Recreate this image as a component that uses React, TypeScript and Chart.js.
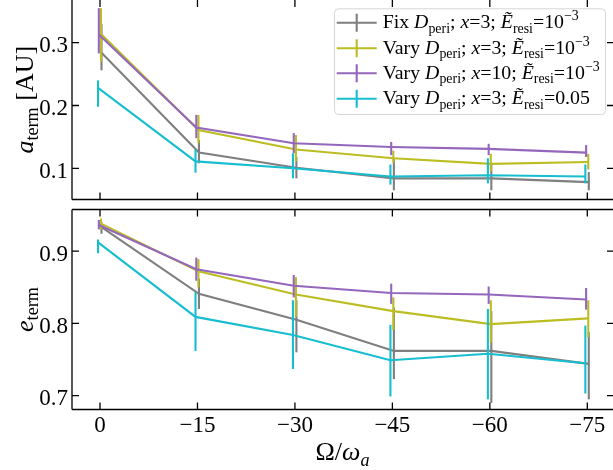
import React, { useEffect, useRef } from 'react';
import { Chart, registerables } from 'chart.js';

Chart.register(...registerables);

// ---------- data ----------
const xValues = [0, -15, -30, -45, -60, -75];
const xTickLabels = ['0', '\u221215', '\u221230', '\u221245', '\u221260', '\u221275'];
const aTickValues = [0.1, 0.2, 0.3];
const aTickLabels = ['0.1', '0.2', '0.3'];
const eTickValues = [0.7, 0.8, 0.9];
const eTickLabels = ['0.7', '0.8', '0.9'];

// a_term [AU]
const aFixX3 = [0.284, 0.125, 0.101, 0.084, 0.084, 0.078];
const aFixX3Lo = [0.256, 0.108, 0.084, 0.065, 0.065, 0.065];
const aFixX3Hi = [0.33, 0.145, 0.118, 0.116, 0.108, 0.094];
const aVaryX3 = [0.314, 0.161, 0.13, 0.116, 0.107, 0.11];
const aVaryX3Lo = [0.27, 0.14, 0.111, 0.109, 0.095, 0.098];
const aVaryX3Hi = [0.355, 0.185, 0.153, 0.128, 0.123, 0.123];
const aVaryX10 = [0.313, 0.165, 0.14, 0.134, 0.131, 0.125];
const aVaryX10Lo = [0.283, 0.148, 0.124, 0.121, 0.121, 0.118];
const aVaryX10Hi = [0.355, 0.185, 0.156, 0.142, 0.139, 0.137];
const aVaryE05 = [0.228, 0.111, 0.1, 0.087, 0.089, 0.087];
const aVaryE05Lo = [0.198, 0.093, 0.084, 0.074, 0.076, 0.076];
const aVaryE05Hi = [0.24, 0.13, 0.124, 0.106, 0.116, 0.106];

// e_term
const eFixX3 = [0.933, 0.841, 0.805, 0.762, 0.762, 0.744];
const eFixX3Lo = [0.924, 0.82, 0.76, 0.723, 0.69, 0.695];
const eFixX3Hi = [0.94, 0.862, 0.832, 0.822, 0.817, 0.788];
const eVaryX3 = [0.938, 0.872, 0.84, 0.817, 0.799, 0.807];
const eVaryX3Lo = [0.93, 0.85, 0.809, 0.791, 0.773, 0.781];
const eVaryX3Hi = [0.945, 0.889, 0.864, 0.836, 0.832, 0.832];
const eVaryX10 = [0.936, 0.875, 0.852, 0.842, 0.84, 0.833];
const eVaryX10Lo = [0.93, 0.859, 0.836, 0.827, 0.827, 0.819];
const eVaryX10Hi = [0.943, 0.891, 0.867, 0.855, 0.851, 0.849];
const eVaryE05 = [0.912, 0.809, 0.784, 0.749, 0.758, 0.745];
const eVaryE05Lo = [0.897, 0.762, 0.737, 0.699, 0.695, 0.703];
const eVaryE05Hi = [0.916, 0.843, 0.832, 0.798, 0.82, 0.797];

type Seg = { t: string; it?: boolean; sub?: boolean; sup?: boolean };

const legendLabels: Seg[][] = [
  [{ t: 'Fix ' }, { t: 'D', it: true }, { t: 'peri', sub: true }, { t: '; ' }, { t: 'x', it: true }, { t: '=3; ' }, { t: '\u1EBC', it: true }, { t: 'resi', sub: true }, { t: '=10' }, { t: '\u22123', sup: true }],
  [{ t: 'Vary ' }, { t: 'D', it: true }, { t: 'peri', sub: true }, { t: '; ' }, { t: 'x', it: true }, { t: '=3; ' }, { t: '\u1EBC', it: true }, { t: 'resi', sub: true }, { t: '=10' }, { t: '\u22123', sup: true }],
  [{ t: 'Vary ' }, { t: 'D', it: true }, { t: 'peri', sub: true }, { t: '; ' }, { t: 'x', it: true }, { t: '=10; ' }, { t: '\u1EBC', it: true }, { t: 'resi', sub: true }, { t: '=10' }, { t: '\u22123', sup: true }],
  [{ t: 'Vary ' }, { t: 'D', it: true }, { t: 'peri', sub: true }, { t: '; ' }, { t: 'x', it: true }, { t: '=3; ' }, { t: '\u1EBC', it: true }, { t: 'resi', sub: true }, { t: '=0.05' }],
];
const aTitle: Seg[] = [{ t: 'a', it: true }, { t: 'term', sub: true }, { t: ' [AU]' }];
const eTitle: Seg[] = [{ t: 'e', it: true }, { t: 'term', sub: true }];
const xTitle: Seg[] = [{ t: '\u03A9/' }, { t: '\u03C9', it: true }, { t: 'a', it: true, sub: true }];

const colors = ['#7f7f7f', '#bcbd22', '#9467bd', '#17becf'];
const xShift = [-0.23, -0.15, 0.18, 0.3];

const aSeries = [aFixX3, aVaryX3, aVaryX10, aVaryE05];
const aLo = [aFixX3Lo, aVaryX3Lo, aVaryX10Lo, aVaryE05Lo];
const aHi = [aFixX3Hi, aVaryX3Hi, aVaryX10Hi, aVaryE05Hi];
const eSeries = [eFixX3, eVaryX3, eVaryX10, eVaryE05];
const eLo = [eFixX3Lo, eVaryX3Lo, eVaryX10Lo, eVaryE05Lo];
const eHi = [eFixX3Hi, eVaryX3Hi, eVaryX10Hi, eVaryE05Hi];

// ---------- drawing helpers ----------
const FONT = '"Liberation Serif", "Times New Roman", serif';
const LW = 2.1;

function segFont(s: Seg, size: number) {
  const sz = s.sub || s.sup ? size * 0.7 : size;
  return `${s.it ? 'italic ' : ''}${sz}px ${FONT}`;
}
function richWidth(ctx: CanvasRenderingContext2D, segs: Seg[], size: number) {
  let w = 0;
  for (const s of segs) {
    ctx.font = segFont(s, size);
    w += ctx.measureText(s.t).width;
  }
  return w;
}
function drawRich(ctx: CanvasRenderingContext2D, segs: Seg[], x: number, y: number, size: number) {
  let cx = x;
  ctx.textAlign = 'left';
  ctx.textBaseline = 'alphabetic';
  for (const s of segs) {
    ctx.font = segFont(s, size);
    const dy = s.sub ? 0.22 * size : s.sup ? -0.4 * size : 0;
    ctx.fillText(s.t, cx, y + dy);
    cx += ctx.measureText(s.t).width;
  }
}

type PanelCfg = {
  lo: number[][];
  hi: number[][];
  yTicks: number[];
  yTickLabels: string[];
  yTitle: Seg[];
  bottomPanel: boolean;
};

function makePlugin(cfg: PanelCfg) {
  return {
    id: 'panelDecor',
    afterDatasetDraw(chart: any, args: any) {
      const i = args.index;
      const ctx: CanvasRenderingContext2D = chart.ctx;
      const xs = chart.scales.x;
      const ys = chart.scales.y;
      ctx.save();
      ctx.strokeStyle = colors[i];
      ctx.lineWidth = LW;
      xValues.forEach((xv, j) => {
        const px = xs.getPixelForValue(xv + xShift[i]);
        ctx.beginPath();
        ctx.moveTo(px, ys.getPixelForValue(cfg.lo[i][j]));
        ctx.lineTo(px, ys.getPixelForValue(cfg.hi[i][j]));
        ctx.stroke();
      });
      ctx.restore();
    },
    afterDraw(chart: any) {
      const ctx: CanvasRenderingContext2D = chart.ctx;
      const { left, right, top, bottom } = chart.chartArea;
      const xs = chart.scales.x;
      const ys = chart.scales.y;
      ctx.save();
      ctx.strokeStyle = '#000';
      ctx.lineWidth = 1.3;
      // spines (the right spine lies just past the picture's edge)
      ctx.beginPath();
      ctx.moveTo(left, bottom);
      ctx.lineTo(right + 2, bottom);
      ctx.moveTo(left, top);
      ctx.lineTo(left, bottom);
      if (cfg.bottomPanel) {
        ctx.moveTo(left, top);
        ctx.lineTo(right + 2, top);
      }
      ctx.stroke();
      // ticks (inward)
      const tl = 7;
      ctx.beginPath();
      xValues.forEach((v) => {
        const px = xs.getPixelForValue(v);
        ctx.moveTo(px, bottom);
        ctx.lineTo(px, bottom - tl);
        ctx.moveTo(px, top);
        ctx.lineTo(px, top + tl);
      });
      cfg.yTicks.forEach((v) => {
        const py = ys.getPixelForValue(v);
        ctx.moveTo(left, py);
        ctx.lineTo(left + tl, py);
        ctx.moveTo(right + 1, py);
        ctx.lineTo(right + 1 - tl, py);
      });
      ctx.stroke();

      // y tick labels
      ctx.fillStyle = '#000';
      ctx.font = `23px ${FONT}`;
      ctx.textAlign = 'right';
      ctx.textBaseline = 'alphabetic';
      cfg.yTicks.forEach((v, k) => {
        const py = ys.getPixelForValue(v);
        ctx.fillText(cfg.yTickLabels[k], left - 4, py + 9.5);
      });

      // y title (rotated)
      const tsize = 26;
      const tw = richWidth(ctx, cfg.yTitle, tsize);
      ctx.save();
      ctx.translate(32.5, (top + bottom) / 2);
      ctx.rotate(-Math.PI / 2);
      drawRich(ctx, cfg.yTitle, -tw / 2, 0, tsize);
      ctx.restore();

      if (cfg.bottomPanel) {
        ctx.font = `23px ${FONT}`;
        ctx.textAlign = 'center';
        ctx.textBaseline = 'alphabetic';
        xValues.forEach((v, k) => {
          const px = xs.getPixelForValue(v);
          ctx.fillText(xTickLabels[k], px, bottom + 22.2);
        });
        const xw = richWidth(ctx, xTitle, 26);
        drawRich(ctx, xTitle, (left + right) / 2 - xw / 2, bottom + 50.5, 26);
      } else {
        // legend
        const bx = right - 279;
        const by = top + 8.3;
        const bw = 271;
        const bh = 105.7;
        ctx.beginPath();
        if ((ctx as any).roundRect) (ctx as any).roundRect(bx + 0.5, by + 0.5, bw, bh, 4);
        else ctx.rect(bx + 0.5, by + 0.5, bw, bh);
        ctx.fillStyle = 'rgba(255,255,255,0.8)';
        ctx.fill();
        ctx.strokeStyle = '#d6d6d6';
        ctx.lineWidth = 1;
        ctx.stroke();
        const target = 217;
        const w3 = richWidth(ctx, legendLabels[2], 19);
        let lsize = (19 * target) / w3;
        lsize = Math.max(16, Math.min(22, lsize));
        const rowY = [22.7, 48.3, 73.3, 98.7];
        legendLabels.forEach((segs, i) => {
          const cy = top + rowY[i];
          ctx.strokeStyle = colors[i];
          ctx.lineWidth = LW;
          ctx.beginPath();
          ctx.moveTo(bx + 2.7, cy);
          ctx.lineTo(bx + 42.7, cy);
          ctx.moveTo(bx + 22.7, cy - 9);
          ctx.lineTo(bx + 22.7, cy + 9);
          ctx.stroke();
          ctx.fillStyle = '#000';
          drawRich(ctx, segs, bx + 48.7, cy + 5.6, lsize);
        });
      }
      ctx.restore();
    },
  };
}

function makeConfig(ys: number[][], cfg: PanelCfg, yMin: number, yMax: number, padding: any) {
  return {
    type: 'line' as const,
    data: {
      datasets: ys.map((arr, i) => ({
        data: xValues.map((xv, j) => ({ x: xv + xShift[i], y: arr[j] })),
        borderColor: colors[i],
        backgroundColor: colors[i],
        borderWidth: LW,
        pointRadius: 0,
        fill: false,
        tension: 0,
        order: 3 - i,
      })),
    },
    options: {
      responsive: false,
      animation: false as const,
      events: [],
      layout: { padding },
      scales: {
        x: { type: 'linear' as const, display: false, reverse: true, min: -78.9555, max: 4.3095 },
        y: { type: 'linear' as const, display: false, min: yMin, max: yMax },
      },
      plugins: { legend: { display: false }, tooltip: { enabled: false } },
    },
    plugins: [makePlugin(cfg)],
  };
}

export default function App() {
  const topRef = useRef<HTMLCanvasElement>(null);
  const botRef = useRef<HTMLCanvasElement>(null);

  useEffect(() => {
    const topChart = new Chart(
      topRef.current!,
      makeConfig(
        aSeries,
        { lo: aLo, hi: aHi, yTicks: aTickValues, yTickLabels: aTickLabels, yTitle: aTitle, bottomPanel: false },
        0.050318,
        0.36799,
        { left: 72, right: 0, top: 0, bottom: 5.5 }
      ) as any
    );
    const botChart = new Chart(
      botRef.current!,
      makeConfig(
        eSeries,
        { lo: eLo, hi: eHi, yTicks: eTickValues, yTickLabels: eTickLabels, yTitle: eTitle, bottomPanel: true },
        0.680931,
        0.957517,
        { left: 72, right: 0, top: 4.5, bottom: 60.5 }
      ) as any
    );
    return () => {
      topChart.destroy();
      botChart.destroy();
    };
  }, []);

  return (
    <div style={{ position: 'fixed', left: 0, top: 0, width: 613, height: 470, background: '#fff', overflow: 'hidden' }}>
      <canvas ref={topRef} width={613} height={205} style={{ position: 'absolute', left: 0, top: 0, width: 613, height: 205 }} />
      <canvas ref={botRef} width={613} height={265} style={{ position: 'absolute', left: 0, top: 205, width: 613, height: 265 }} />
    </div>
  );
}
